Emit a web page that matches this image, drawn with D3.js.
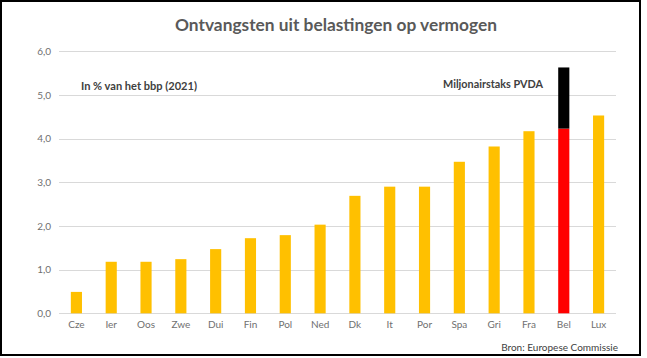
<!DOCTYPE html>
<html>
<head>
<meta charset="utf-8">
<script src="https://cdn.jsdelivr.net/npm/d3@7"></script>
<style>
  body { margin: 0; background: #fff; }
  svg text { font-family: Lato, "Open Sans", sans-serif; }
</style>
</head>
<body>
<svg id="chart" width="647" height="358"></svg>
<script>
const countries = ["Cze","Ier","Oos","Zwe","Dui","Fin","Pol","Ned","Dk","It","Por","Spa","Gri","Fra","Bel","Lux"];
const values = [0.49, 1.18, 1.18, 1.24, 1.47, 1.72, 1.79, 2.03, 2.69, 2.90, 2.90, 3.47, 3.82, 4.17, 4.23, 4.53];
const extra = [0, 0, 0, 0, 0, 0, 0, 0, 0, 0, 0, 0, 0, 0, 1.40, 0]; // miljonairstaks PVDA
const yTicks = [0, 1, 2, 3, 4, 5, 6];

const svg = d3.select("#chart");

// frame
svg.append("rect")
    .attr("x", 1).attr("y", 1)
    .attr("width", 639).attr("height", 354)
    .attr("fill", "none")
    .attr("stroke", "#000")
    .attr("stroke-width", 2);

const x = d3.scaleBand().domain(countries).range([59, 616]).paddingInner(0.68).paddingOuter(0.34);
const y = d3.scaleLinear().domain([0, 6]).range([313.3, 51.3]);

// gridlines
svg.append("g")
    .selectAll("line")
    .data(yTicks)
    .join("line")
    .attr("x1", 59).attr("x2", 616)
    .attr("y1", d => Math.round(y(d)) + 0.5)
    .attr("y2", d => Math.round(y(d)) + 0.5)
    .attr("stroke", "#d9d9d9")
    .attr("stroke-width", 1);

// y axis labels
const yAxis = svg.append("g")
    .attr("transform", "translate(51,0)")
    .call(d3.axisLeft(y).tickValues(yTicks).tickSize(0).tickPadding(0)
        .tickFormat(d => d3.format(".1f")(d).replace(".", ",")));
yAxis.select(".domain").remove();
yAxis.selectAll("text").attr("fill", "#6f6f6f").attr("font-size", "10px");

// x axis labels
const xAxis = svg.append("g")
    .attr("transform", "translate(0,321)")
    .call(d3.axisBottom(x).tickSize(0).tickPadding(0));
xAxis.select(".domain").remove();
xAxis.selectAll("text").attr("fill", "#6f6f6f").attr("font-size", "10px");

// bars
const bars = svg.append("g");
bars.selectAll("rect.base")
    .data(countries)
    .join("rect")
    .attr("class", "base")
    .attr("x", d => x(d))
    .attr("width", x.bandwidth())
    .attr("y", (d, i) => y(values[i]))
    .attr("height", (d, i) => y(0) - y(values[i]))
    .attr("fill", d => d === "Bel" ? "#ff0000" : "#ffc000");

bars.selectAll("rect.extra")
    .data(countries.filter((d, i) => extra[i] > 0))
    .join("rect")
    .attr("class", "extra")
    .attr("x", d => x(d))
    .attr("width", x.bandwidth())
    .attr("y", d => { const i = countries.indexOf(d); return y(values[i] + extra[i]); })
    .attr("height", d => { const i = countries.indexOf(d); return y(values[i]) - y(values[i] + extra[i]); })
    .attr("fill", "#000");

// title
svg.append("text")
    .attr("x", 336).attr("y", 31)
    .attr("text-anchor", "middle")
    .attr("font-size", "17px")
    .attr("font-weight", "bold")
    .attr("fill", "#595959")
    .attr("textLength", 322)
    .attr("lengthAdjust", "spacingAndGlyphs")
    .text("Ontvangsten uit belastingen op vermogen");

svg.append("text")
    .attr("x", 81).attr("y", 90)
    .attr("font-size", "11px")
    .attr("font-weight", "bold")
    .attr("fill", "#404040")
    .attr("textLength", 116)
    .attr("lengthAdjust", "spacingAndGlyphs")
    .text("In % van het bbp (2021)");

svg.append("text")
    .attr("x", 443).attr("y", 88)
    .attr("font-size", "10.5px")
    .attr("font-weight", "bold")
    .attr("fill", "#404040")
    .attr("textLength", 100)
    .attr("lengthAdjust", "spacingAndGlyphs")
    .text("Miljonairstaks PVDA");

svg.append("text")
    .attr("x", 618).attr("y", 351)
    .attr("text-anchor", "end")
    .attr("font-size", "10px")
    .attr("fill", "#404040")
    .text("Bron: Europese Commissie");
</script>
</body>
</html>
